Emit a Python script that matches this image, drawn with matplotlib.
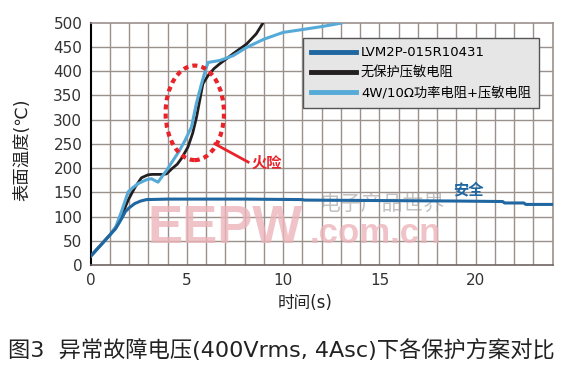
import numpy as np
import matplotlib as mpl
mpl.use('Agg')
import matplotlib.pyplot as plt
from matplotlib.patches import Ellipse

mpl.rcParams['font.family'] = ['DejaVu Sans', 'Noto Sans CJK SC']

# LVM2P-015R10431 (dark blue)
t_lvm = [0, 0.5, 1.0, 1.3, 1.6, 1.8, 2.0, 2.3, 2.6, 2.9, 4.0, 6.0, 8.0,
         11.0, 11.1, 15.0, 19.0, 21.4, 21.5, 22.5, 22.6, 24.0]
T_lvm = [18, 40, 62, 75, 95, 110, 118, 127, 132, 135, 136, 136, 136,
         135, 134, 133, 132, 131, 128, 128, 125, 125]

# no protection, varistor only (black)
t_none = [0, 0.5, 1.0, 1.3, 1.6, 1.95, 2.3, 2.64, 2.97, 3.2, 3.77, 3.94, 4.2,
          4.5, 4.72, 5.05, 5.3, 5.5, 5.83, 6.1, 6.4, 6.7, 7.4, 8.1, 8.6, 8.96]
T_none = [18, 40, 62, 78, 100, 134, 160, 180, 186, 187, 187, 188, 198,
          208, 220, 243, 272, 305, 374, 391, 405, 415, 436, 456, 477, 500]

# 4W/10 ohm resistor + varistor (light blue)
t_res = [0, 0.5, 1.0, 1.3, 1.6, 1.95, 2.2, 2.47, 2.9, 3.16, 3.3, 3.5, 3.7,
         3.94, 4.3, 4.6, 4.9, 5.24, 5.49, 5.76, 5.93, 6.1, 6.7, 7.4, 8.1,
         9.0, 10.0, 10.85, 12.0, 13.0]
T_res = [18, 40, 62, 78, 110, 151, 160, 168, 176, 178, 175, 171, 182,
         195, 217, 235, 257, 285, 333, 374, 398, 418, 422, 432, 449,
         466, 480, 485, 492, 499]

labels = ['LVM2P-015R10431', '无保护压敏电阻', '4W/10Ω功率电阻+压敏电阻']
xticks = [0, 5, 10, 15, 20]
yticks = list(range(0, 501, 50))

c_dark = '#2066a0'
c_black = '#231f20'
c_light = '#55aad8'
c_red = '#e8232a'
c_grid = '#9b918c'
c_pink = '#ecb4b9'

fig = plt.figure(figsize=(5.7, 3.76), dpi=100)
ax = fig.add_axes([0.159, 0.2952, 0.8107, 0.6444])

# grid every 1 s and every 50 C
for xv in np.arange(1, 24, 1):
    ax.axvline(xv, color=c_grid, lw=1.0, zorder=1)
for yv in yticks[1:-1]:
    ax.axhline(yv, color=c_grid, lw=1.0, zorder=1)

# watermark
ax.text(2.95, 45, 'EEPW', fontsize=38, fontweight='bold', color=c_pink,
        alpha=0.8, family='Liberation Sans', zorder=1.5, va='baseline')
ax.text(11.35, 45, '.com.cn', fontsize=25, fontweight='bold', color=c_pink,
        alpha=0.8, family='Liberation Sans', zorder=1.5, va='baseline')
ax.text(11.9, 114, '电子产品世界', fontsize=15, color='#9a9a9a', alpha=0.6,
        family='Noto Sans CJK SC', zorder=1.5, va='baseline')

l2, = ax.plot(t_none, T_none, color=c_black, lw=2.0, zorder=3, label=labels[1])
l3, = ax.plot(t_res, T_res, color=c_light, lw=2.2, zorder=4, label=labels[2])
l1, = ax.plot(t_lvm, T_lvm, color=c_dark, lw=2.2, zorder=5, label=labels[0])

# danger ellipse + annotation
ax.add_patch(Ellipse((5.41, 314), 3.03, 195, fill=False, ls=(0, (1.2, 1.0)),
                     lw=3, color=c_red, zorder=6))
ax.plot([6.45, 8.18], [250, 212.5], color=c_red, lw=2, zorder=6)
ax.text(8.37, 212, '火险', color=c_red, fontsize=11, fontweight='bold',
        va='center', ha='left', family='Noto Sans CJK SC', zorder=7)
ax.text(19.63, 155, '安全', color=c_dark, fontsize=11, fontweight='bold',
        va='center', ha='center', family='Noto Sans CJK SC', zorder=7)

ax.set_xlim(0, 24)
ax.set_ylim(0, 500)
ax.set_xticks(xticks)
ax.set_yticks(yticks)
ax.tick_params(length=0, labelsize=11, labelcolor='#333333', pad=6)

for s in ['top', 'right']:
    ax.spines[s].set_color(c_grid)
    ax.spines[s].set_linewidth(1.2)
ax.spines['bottom'].set_color('#6e6561')
ax.spines['bottom'].set_linewidth(1.2)
ax.spines['left'].set_color('black')
ax.spines['left'].set_linewidth(1.5)

leg = ax.legend(handles=[l1, l2, l3], loc='upper left',
                bbox_to_anchor=(0.4595, 0.9356), borderaxespad=0,
                fontsize=9.5, handlelength=3.4, handletextpad=0.4,
                labelspacing=0.55, borderpad=0.6, fancybox=False,
                framealpha=1, facecolor='#e6e6e6', edgecolor='#555555')
leg.get_frame().set_linewidth(1.0)
for line in leg.get_lines():
    line.set_linewidth(3.5)
leg.set_zorder(8)

fig.text(22 / 570, 1 - 150 / 376, '表面温度(℃)', rotation=90, ha='center',
         va='center', fontsize=12.5, color='#222222')
fig.text(305 / 570, 1 - 303 / 376, '时间(s)', ha='center', va='center',
         fontsize=12, color='#222222')
fig.text(8 / 570, 1 - 350 / 376, '图3  异常故障电压(400Vrms, 4Asc)下各保护方案对比',
         ha='left', va='center', fontsize=16, color='#222222')

fig.savefig('out.png', dpi=100)
